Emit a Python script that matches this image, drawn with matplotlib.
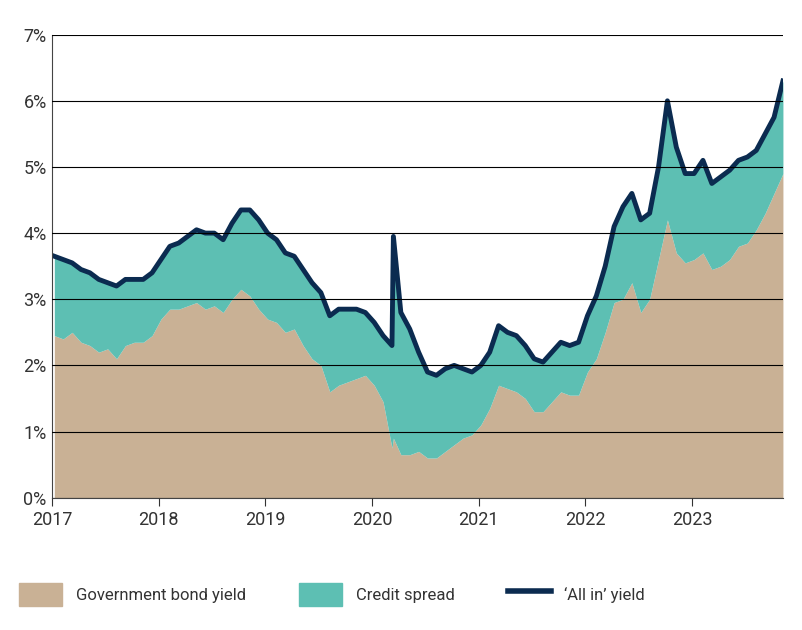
import numpy as np
import matplotlib.pyplot as plt
from matplotlib.patches import Patch
from matplotlib.lines import Line2D

plt.rcParams['font.family'] = ['Roboto', 'DejaVu Sans']

# monthly values, Jan 2017 .. Nov 2023 (%)
gov_yield = [
    2.45, 2.4, 2.5, 2.35, 2.3, 2.2, 2.25, 2.1, 2.3, 2.35, 2.35, 2.45,
    2.7, 2.85, 2.85, 2.9, 2.95, 2.85, 2.9, 2.8, 3.0, 3.15, 3.05, 2.85,
    2.7, 2.65, 2.5, 2.55, 2.3, 2.1, 2.0, 1.6, 1.7, 1.75, 1.8, 1.85,
    1.7, 1.45, 0.75, 0.65, 0.65, 0.7, 0.6, 0.6, 0.7, 0.8, 0.9, 0.95,
    1.1, 1.35, 1.7, 1.65, 1.6, 1.5, 1.3, 1.3, 1.45, 1.6, 1.55, 1.55,
    1.9, 2.1, 2.5, 2.95, 3.0, 3.25, 2.8, 3.0, 3.6, 4.2, 3.7, 3.55,
    3.6, 3.7, 3.45, 3.5, 3.6, 3.8, 3.85, 4.05, 4.3, 4.6, 4.9,
]
all_in_yield = [
    3.65, 3.6, 3.55, 3.45, 3.4, 3.3, 3.25, 3.2, 3.3, 3.3, 3.3, 3.4,
    3.6, 3.8, 3.85, 3.95, 4.05, 4.0, 4.0, 3.9, 4.15, 4.35, 4.35, 4.2,
    4.0, 3.9, 3.7, 3.65, 3.45, 3.25, 3.1, 2.75, 2.85, 2.85, 2.85, 2.8,
    2.65, 2.45, 2.3, 2.8, 2.55, 2.2, 1.9, 1.85, 1.95, 2.0, 1.95, 1.9,
    2.0, 2.2, 2.6, 2.5, 2.45, 2.3, 2.1, 2.05, 2.2, 2.35, 2.3, 2.35,
    2.75, 3.05, 3.5, 4.1, 4.4, 4.6, 4.2, 4.3, 5.0, 6.0, 5.3, 4.9,
    4.9, 5.1, 4.75, 4.85, 4.95, 5.1, 5.15, 5.25, 5.5, 5.75, 6.3,
]
# Covid spike, mid-March 2020
spike_date = 2020.2
spike_gov = 0.9
spike_all_in = 3.95

dates = 2017 + np.arange(len(gov_yield)) / 12 + 0.02
idx = np.searchsorted(dates, spike_date)
dates = np.insert(dates, idx, spike_date)
gov = np.insert(np.array(gov_yield), idx, spike_gov)
allin = np.insert(np.array(all_in_yield), idx, spike_all_in)

tan = '#C9B195'
teal = '#5DBFB3'
navy = '#0B2B50'

fig = plt.figure(figsize=(8.03, 6.30), dpi=100)
ax = fig.add_axes([0.065, 0.21, 0.91, 0.735])
ax.fill_between(dates, 0, gov, color=tan, lw=0)
ax.fill_between(dates, gov, allin, color=teal, lw=0)
ax.plot(dates, allin, color=navy, lw=3.5)

ax.set_xlim(2017, dates[-1])
ax.set_ylim(0, 7)
ax.set_yticks(range(8))
ax.set_yticklabels([f'{i}%' for i in range(8)])
ax.set_xticks(range(2017, 2024))
ax.set_xticklabels([str(y) for y in range(2017, 2024)])
ax.grid(axis='y', color='black', lw=0.8)
ax.set_axisbelow(False)
for s in ['top', 'right']:
    ax.spines[s].set_visible(False)
ax.spines['left'].set_color('#444444')
ax.spines['bottom'].set_color('#444444')
ax.tick_params(axis='y', length=0, labelsize=13, colors='#333333', pad=4)
ax.tick_params(axis='x', length=6, labelsize=13, colors='#333333', direction='out')

handles = [Patch(color=tan), Patch(color=teal), Line2D([], [], color=navy, lw=4)]
labels = ['Government bond yield', 'Credit spread', '\u2018All in\u2019 yield']
fig.legend(handles, labels, loc='lower left', bbox_to_anchor=(0.005, 0.015), ncol=3,
           frameon=False, fontsize=12, handlelength=2.6, handleheight=1.7,
           columnspacing=3.2, labelcolor='#333333')

fig.savefig('out.png', dpi=100)
